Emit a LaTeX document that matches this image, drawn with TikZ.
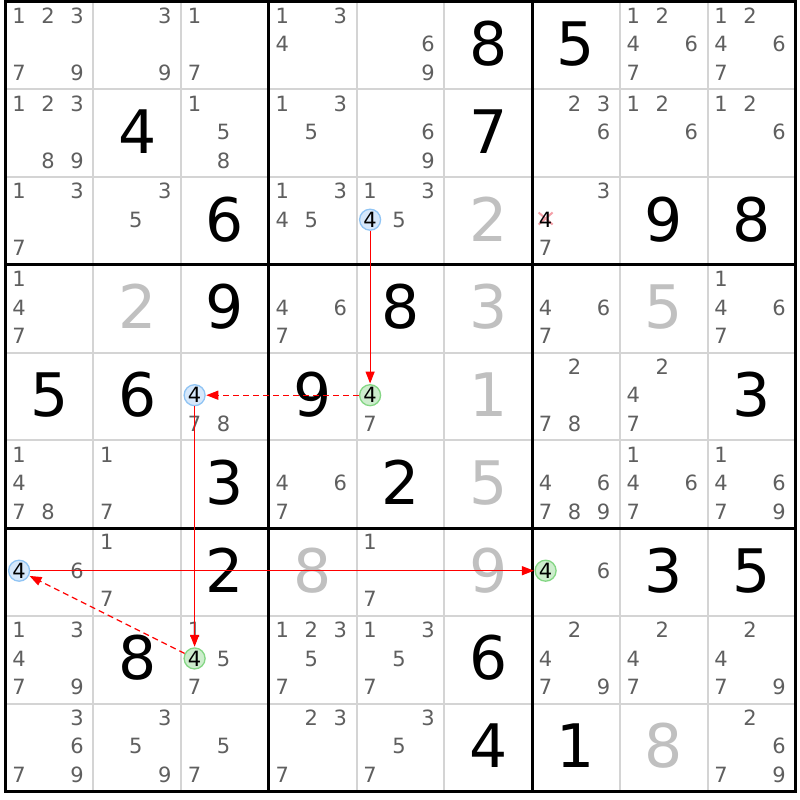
\documentclass[tikz,border=0pt]{standalone}
\usepackage{fontspec}
\setmainfont{DejaVu Sans}
\usetikzlibrary{arrows.meta}
\definecolor{candgrey}{HTML}{5F5F5F}
\definecolor{solvedgrey}{HTML}{C0C0C0}
\definecolor{gridgrey}{HTML}{D4D4D4}
\definecolor{bluefill}{HTML}{D6E8FB}
\definecolor{bluedraw}{HTML}{90C4F4}
\definecolor{greenfill}{HTML}{CDEDCD}
\definecolor{greendraw}{HTML}{84D684}
\definecolor{linkred}{HTML}{FF0000}
\definecolor{crossred}{HTML}{F4A0A8}
\def\Xo{5.5}
\def\Yo{1.5}
\def\S{87.75}
\tikzset{
  bigdig/.style={inner sep=0pt, font=\fontsize{60}{60}\selectfont, text height=43.7pt, text depth=0pt},
  cand/.style={inner sep=0pt, font=\fontsize{21}{21}\selectfont, text=candgrey, text height=15.3pt, text depth=0pt},
  bluecirc/.style={circle, inner sep=0pt, minimum size=21pt, line width=1.3pt, draw=bluedraw, fill=bluefill, text=black, font=\fontsize{21}{21}\selectfont, text height=15.3pt, text depth=0pt},
  greencirc/.style={bluecirc, draw=greendraw, fill=greenfill},
  thingrid/.style={draw=gridgrey, line width=2pt},
  thickgrid/.style={draw=black, line width=3pt},
  link/.style={color=linkred, line width=1.2pt, -{Triangle[length=12pt,width=9pt]}, shorten >=0.5pt},
  weaklink/.style={link, dash pattern=on 6pt off 4pt},
  crossmark/.style={draw=crossred, line width=2pt}
}
\newcommand\givd[3]{\node[bigdig] (g#1-#2) at ({\Xo+(#2-0.5)*\S},{\Yo+(#1-0.5)*\S-1.5}) {#3};}
\newcommand\solvd[3]{\node[bigdig,text=solvedgrey] (g#1-#2) at ({\Xo+(#2-0.5)*\S},{\Yo+(#1-0.5)*\S-1.5}) {#3};}
\newcommand\cands[3]{%
  \foreach \d in {#3}{%
    \pgfmathtruncatemacro\kk{mod(\d-1,3)}%
    \pgfmathtruncatemacro\mm{floor((\d-1)/3)}%
    \node[cand] (n#1-#2-\d) at ({\Xo+(#2-1)*\S+13.6+29*\kk},{\Yo+(#1-1)*\S+14.3+28.4*\mm}) {\d};
  }}
\newcommand\circd[4]{\node[#3] (#4) at ({\Xo+(#2-1)*\S+13.6},{\Yo+(#1-1)*\S+42.7}) {4};}
\begin{document}
\begin{tikzpicture}[x=1pt,y=-1pt]
\useasboundingbox[fill=white] (0,0) rectangle (800,800);
% grid
\foreach \i in {1,2,4,5,7,8}{
  \draw[thingrid] ({\Xo+\i*\S},\Yo) -- ({\Xo+\i*\S},{\Yo+9*\S});
  \draw[thingrid] (\Xo,{\Yo+\i*\S}) -- ({\Xo+9*\S},{\Yo+\i*\S});
}
\foreach \i in {0,3,6,9}{
  \draw[thickgrid] ({\Xo+\i*\S},{\Yo-1.5}) -- ({\Xo+\i*\S},{\Yo+9*\S+1.5});
  \draw[thickgrid] ({\Xo-1.5},{\Yo+\i*\S}) -- ({\Xo+9*\S+1.5},{\Yo+\i*\S});
}
% givens
\givd{1}{6}{8}\givd{1}{7}{5}
\givd{2}{2}{4}\givd{2}{6}{7}
\givd{3}{3}{6}\givd{3}{8}{9}\givd{3}{9}{8}
\givd{4}{3}{9}\givd{4}{5}{8}
\givd{5}{1}{5}\givd{5}{2}{6}\givd{5}{4}{9}\givd{5}{9}{3}
\givd{6}{3}{3}\givd{6}{5}{2}
\givd{7}{3}{2}\givd{7}{8}{3}\givd{7}{9}{5}
\givd{8}{2}{8}\givd{8}{6}{6}
\givd{9}{6}{4}\givd{9}{7}{1}
% solved
\solvd{3}{6}{2}\solvd{4}{2}{2}\solvd{4}{6}{3}\solvd{4}{8}{5}
\solvd{5}{6}{1}\solvd{6}{6}{5}\solvd{7}{4}{8}\solvd{7}{6}{9}\solvd{9}{8}{8}
% candidates
\cands{1}{1}{1,2,3,7,9}\cands{1}{2}{3,9}\cands{1}{3}{1,7}\cands{1}{4}{1,3,4}\cands{1}{5}{6,9}\cands{1}{8}{1,2,4,6,7}\cands{1}{9}{1,2,4,6,7}
\cands{2}{1}{1,2,3,8,9}\cands{2}{3}{1,5,8}\cands{2}{4}{1,3,5}\cands{2}{5}{6,9}\cands{2}{7}{2,3,6}\cands{2}{8}{1,2,6}\cands{2}{9}{1,2,6}
\cands{3}{1}{1,3,7}\cands{3}{2}{3,5}\cands{3}{4}{1,3,4,5}\cands{3}{5}{1,3,5}\cands{3}{7}{3,7}
\cands{4}{1}{1,4,7}\cands{4}{4}{4,6,7}\cands{4}{7}{4,6,7}\cands{4}{9}{1,4,6,7}
\cands{5}{3}{7,8}\cands{5}{5}{7}\cands{5}{7}{2,7,8}\cands{5}{8}{2,4,7}
\cands{6}{1}{1,4,7,8}\cands{6}{2}{1,7}\cands{6}{4}{4,6,7}\cands{6}{7}{4,6,7,8,9}\cands{6}{8}{1,4,6,7}\cands{6}{9}{1,4,6,7,9}
\cands{7}{1}{6}\cands{7}{2}{1,7}\cands{7}{5}{1,7}\cands{7}{7}{6}
\cands{8}{1}{1,3,4,7,9}\cands{8}{3}{1,5,7}\cands{8}{4}{1,2,3,5,7}\cands{8}{5}{1,3,5,7}\cands{8}{7}{2,4,7,9}\cands{8}{8}{2,4,7}\cands{8}{9}{2,4,7,9}
\cands{9}{1}{3,6,7,9}\cands{9}{2}{3,5,9}\cands{9}{3}{5,7}\cands{9}{4}{2,3,7}\cands{9}{5}{3,5,7}\cands{9}{9}{2,6,7,9}
% eliminated candidate
\coordinate (x37) at ({\Xo+6*\S+13.6},{\Yo+2*\S+41.5});
\draw[crossmark] ([shift={(-7,-6)}]x37) -- ([shift={(7,6)}]x37);
\draw[crossmark] ([shift={(-7,6)}]x37) -- ([shift={(7,-6)}]x37);
\node[cand,text=black] (n3-7-4) at ({\Xo+6*\S+13.6},{\Yo+2*\S+42.7}) {4};
% chain candidates
\circd{3}{5}{bluecirc}{b35}
\circd{5}{5}{greencirc}{e55}
\circd{5}{3}{bluecirc}{b53}
\circd{8}{3}{greencirc}{e83}
\circd{7}{1}{bluecirc}{b71}
\circd{7}{7}{greencirc}{e77}
% links
\draw[link] (b35) -- (e55);
\draw[weaklink] (e55) -- (b53);
\draw[link] (b53) -- (e83);
\draw[weaklink] (e83) -- (b71);
\draw[link] (b71) -- (e77);
\end{tikzpicture}
\end{document}
